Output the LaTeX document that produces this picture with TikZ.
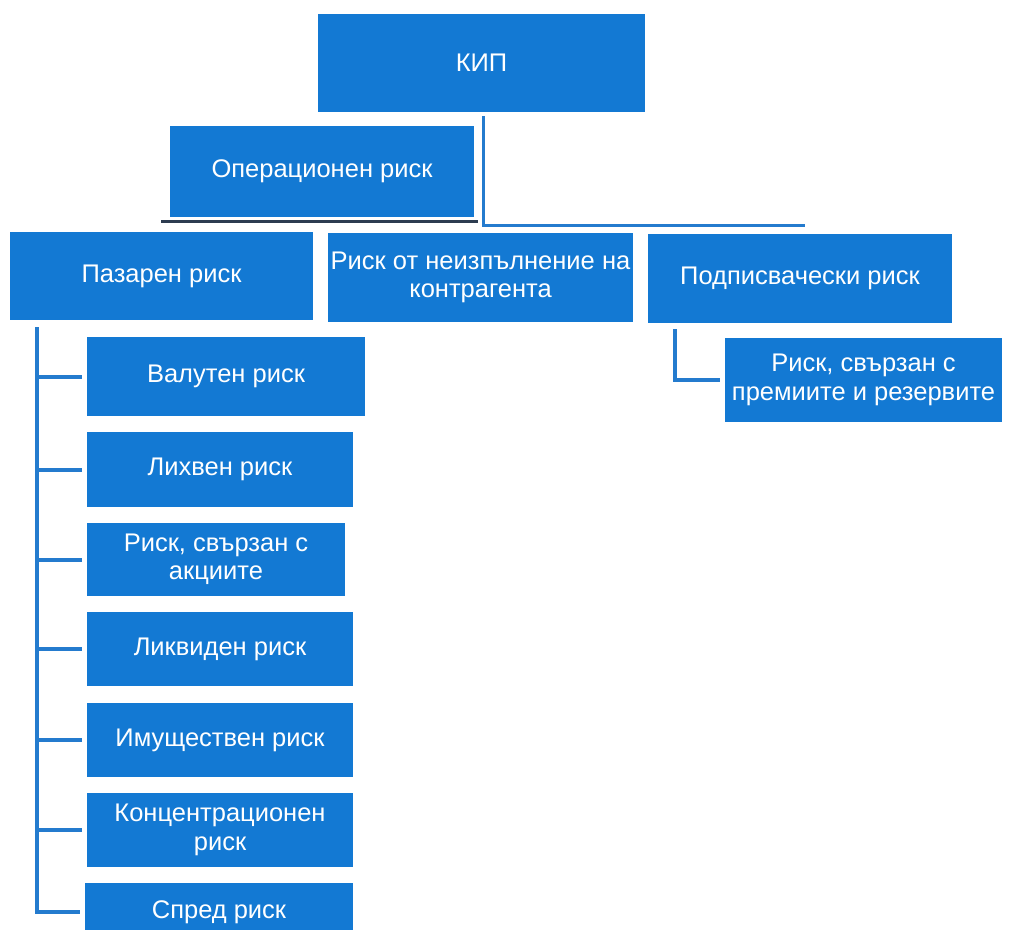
\documentclass[tikz,border=0pt]{standalone}
\usepackage{fontspec}
\setmainfont{Liberation Sans}
\definecolor{boxblue}{RGB}{19,121,211}
\definecolor{lineblue}{RGB}{36,123,206}
\definecolor{darkline}{RGB}{45,60,80}
\begin{document}
\begin{tikzpicture}[x=1pt,y=-1pt,
  box/.style={fill=boxblue, draw=none, inner sep=0pt, text=white, align=center,
    font=\fontsize{25.5}{28.5}\selectfont},
  conn/.style={draw=lineblue, line width=4pt},
  thinconn/.style={draw=lineblue, line width=3pt},
  shadowline/.style={draw=darkline, line width=3pt}]
\useasboundingbox (0,0) rectangle (1009,929);
\fill[white] (0,0) rectangle (1009,929);

% nodes
\node[box, minimum width=327pt, minimum height=98pt] (kip) at (481.5,63) {КИП};
\node[box, minimum width=304pt, minimum height=91pt] (op) at (322,171.5) {Операционен риск};
\node[box, minimum width=303pt, minimum height=88pt] (paz) at (161.5,276) {Пазарен риск};
\node[box, minimum width=305pt, minimum height=89pt] (neiz) at (480.5,277.5) {Риск от неизпълнение на\\контрагента};
\node[box, minimum width=304pt, minimum height=89pt] (podp) at (800,278.5) {Подписвачески риск};
\node[box, minimum width=277pt, minimum height=84pt] (prem) at (863.5,380) {Риск, свързан с\\премиите и резервите};
\node[box, minimum width=278pt, minimum height=79pt] (val) at (226,376.5) {Валутен риск};
\node[box, minimum width=266pt, minimum height=75pt] (lih) at (220,469.5) {Лихвен риск};
\node[box, minimum width=258pt, minimum height=73pt] (akc) at (216,559.5) {Риск, свързан с\\акциите};
\node[box, minimum width=266pt, minimum height=74pt] (likv) at (220,649) {Ликвиден риск};
\node[box, minimum width=266pt, minimum height=74pt] (imu) at (220,740) {Имуществен риск};
\node[box, minimum width=266pt, minimum height=74pt] (konc) at (220,830) {Концентрационен\\риск};
\node[box, minimum width=268pt, minimum height=58pt] (spred) at (219,912) {Спред риск};

% coordinates for connectors
\coordinate (ktop) at (483,116);
\coordinate (j1) at (483,225);
\coordinate (j2) at (805,225);
\coordinate (d1) at (161,221);
\coordinate (d2) at (478,221);
\coordinate (ls) at (37,327);
\coordinate (pc) at (675,329);

% connectors
\draw[thinconn] (ktop) -- (j1) -- (j2);
\draw[shadowline] (d1) -- (d2);
\draw[conn] (ls) |- ([xshift=-5pt]spred.west);
\foreach \n in {val,lih,akc,likv,imu,konc}
  \draw[conn] (ls |- \n.west) -- ([xshift=-5pt]\n.west);
\draw[conn] (pc) |- ([xshift=-5pt]prem.west);
\end{tikzpicture}
\end{document}
